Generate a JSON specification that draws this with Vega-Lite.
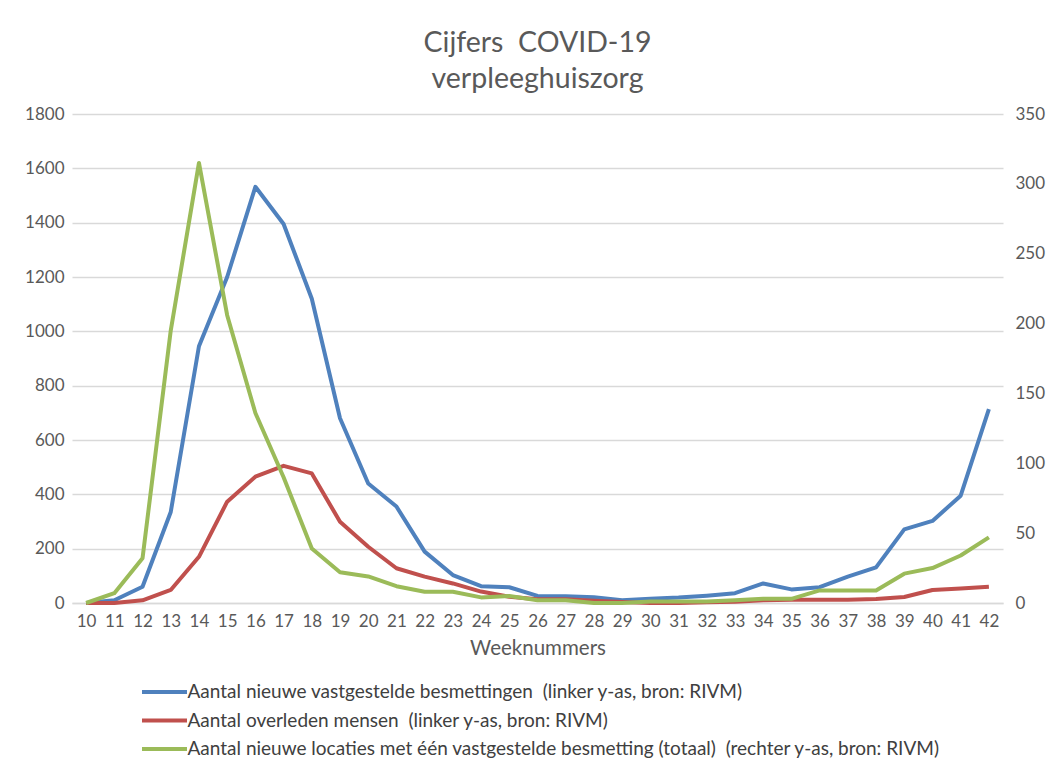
{
  "$schema": "https://vega.github.io/schema/vega-lite/v6.json",
  "width": 931,
  "height": 489,
  "autosize": {"type": "none"},
  "padding": {"left": 72, "top": 114, "right": 60, "bottom": 174},
  "background": "white",
  "config": {"view": {"stroke": null}, "font": "Lato"},
  "title": {
    "text": ["Cijfers \u00a0COVID-19", "verpleeghuiszorg"],
    "fontSize": 28.5,
    "fontWeight": "normal",
    "color": "#595959",
    "lineHeight": 36,
    "anchor": "middle",
    "offset": 12
  },
  "data": {
    "values": [
      {"week": 10, "besmettingen": 0, "overleden": 0, "locaties": 0},
      {"week": 11, "besmettingen": 10, "overleden": 0, "locaties": 7},
      {"week": 12, "besmettingen": 60, "overleden": 10, "locaties": 32},
      {"week": 13, "besmettingen": 335, "overleden": 48, "locaties": 195},
      {"week": 14, "besmettingen": 945, "overleden": 170, "locaties": 315},
      {"week": 15, "besmettingen": 1200, "overleden": 373, "locaties": 206},
      {"week": 16, "besmettingen": 1532, "overleden": 465, "locaties": 136},
      {"week": 17, "besmettingen": 1395, "overleden": 505, "locaties": 90},
      {"week": 18, "besmettingen": 1120, "overleden": 477, "locaties": 39},
      {"week": 19, "besmettingen": 680, "overleden": 299, "locaties": 22},
      {"week": 20, "besmettingen": 440, "overleden": 207, "locaties": 19},
      {"week": 21, "besmettingen": 355, "overleden": 128, "locaties": 12},
      {"week": 22, "besmettingen": 189, "overleden": 97, "locaties": 8},
      {"week": 23, "besmettingen": 103, "overleden": 72, "locaties": 8},
      {"week": 24, "besmettingen": 62, "overleden": 42, "locaties": 4},
      {"week": 25, "besmettingen": 58, "overleden": 23, "locaties": 5},
      {"week": 26, "besmettingen": 26, "overleden": 14, "locaties": 2},
      {"week": 27, "besmettingen": 25, "overleden": 14, "locaties": 2},
      {"week": 28, "besmettingen": 21, "overleden": 8, "locaties": 0},
      {"week": 29, "besmettingen": 10, "overleden": 4, "locaties": 0},
      {"week": 30, "besmettingen": 16, "overleden": 0, "locaties": 1},
      {"week": 31, "besmettingen": 20, "overleden": 0, "locaties": 1},
      {"week": 32, "besmettingen": 27, "overleden": 3, "locaties": 1},
      {"week": 33, "besmettingen": 36, "overleden": 5, "locaties": 2},
      {"week": 34, "besmettingen": 72, "overleden": 10, "locaties": 3},
      {"week": 35, "besmettingen": 50, "overleden": 12, "locaties": 3},
      {"week": 36, "besmettingen": 58, "overleden": 12, "locaties": 9},
      {"week": 37, "besmettingen": 97, "overleden": 12, "locaties": 9},
      {"week": 38, "besmettingen": 131, "overleden": 15, "locaties": 9},
      {"week": 39, "besmettingen": 271, "overleden": 22, "locaties": 21},
      {"week": 40, "besmettingen": 302, "overleden": 48, "locaties": 25},
      {"week": 41, "besmettingen": 395, "overleden": 53, "locaties": 34},
      {"week": 42, "besmettingen": 714, "overleden": 60, "locaties": 47}
    ]
  },
  "encoding": {
    "x": {
      "field": "week",
      "type": "ordinal",
      "scale": {"type": "point", "padding": 0.5},
      "axis": {
        "title": "Weeknummers",
        "titleFontSize": 20.5,
        "titleFontWeight": "normal",
        "titleColor": "#595959",
        "titlePadding": 9,
        "labelAngle": 0,
        "labelFontSize": 17,
        "labelColor": "#595959",
        "labelPadding": 10,
        "ticks": false,
        "domain": true,
        "domainColor": "#d9d9d9",
        "domainWidth": 1.5,
        "grid": false
      }
    }
  },
  "layer": [
    {
      "transform": [{"fold": ["besmettingen", "overleden"], "as": ["serie", "waarde"]}],
      "mark": {"type": "line", "strokeWidth": 4, "strokeJoin": "round"},
      "encoding": {
        "y": {
          "field": "waarde",
          "type": "quantitative",
          "scale": {"domain": [0, 1800], "nice": false},
          "axis": {
            "title": null,
            "values": [0, 200, 400, 600, 800, 1000, 1200, 1400, 1600, 1800],
            "format": "d",
            "labelFontSize": 17,
            "labelColor": "#595959",
            "labelPadding": 8,
            "ticks": false,
            "domain": false,
            "grid": true,
            "gridColor": "#d9d9d9",
            "gridWidth": 1.5
          }
        },
        "color": {
          "field": "serie",
          "type": "nominal",
          "scale": {
            "domain": ["besmettingen", "overleden", "locaties"],
            "range": ["#4F81BD", "#C0504D", "#9BBB59"]
          },
          "legend": {
            "orient": "none",
            "legendX": 81.5,
            "legendY": 567,
            "direction": "vertical",
            "title": null,
            "symbolType": "M-2.5,0H2.5",
            "symbolSize": 324,
            "symbolStrokeWidth": 4,
            "labelFontSize": 19,
            "labelColor": "#404040",
            "labelLimit": 950,
            "labelOffset": 12,
            "rowPadding": 7.5,
            "labelExpr": "datum.value == 'besmettingen' ? 'Aantal nieuwe vastgestelde besmettingen \u00a0(linker y-as, bron: RIVM)' : datum.value == 'overleden' ? 'Aantal overleden mensen \u00a0(linker y-as, bron: RIVM)' : 'Aantal nieuwe locaties met één vastgestelde besmetting (totaal) \u00a0(rechter y-as, bron: RIVM)'"
          }
        }
      }
    },
    {
      "transform": [{"fold": ["locaties"], "as": ["serie", "waarde"]}],
      "mark": {"type": "line", "strokeWidth": 4, "strokeJoin": "round"},
      "encoding": {
        "y": {
          "field": "waarde",
          "type": "quantitative",
          "scale": {"domain": [0, 350], "nice": false},
          "axis": {
            "title": null,
            "orient": "right",
            "values": [0, 50, 100, 150, 200, 250, 300, 350],
            "labelFontSize": 17,
            "labelColor": "#595959",
            "labelPadding": 12,
            "ticks": false,
            "domain": false,
            "grid": false
          }
        },
        "color": {"field": "serie", "type": "nominal"}
      }
    }
  ],
  "resolve": {"scale": {"y": "independent"}}
}
